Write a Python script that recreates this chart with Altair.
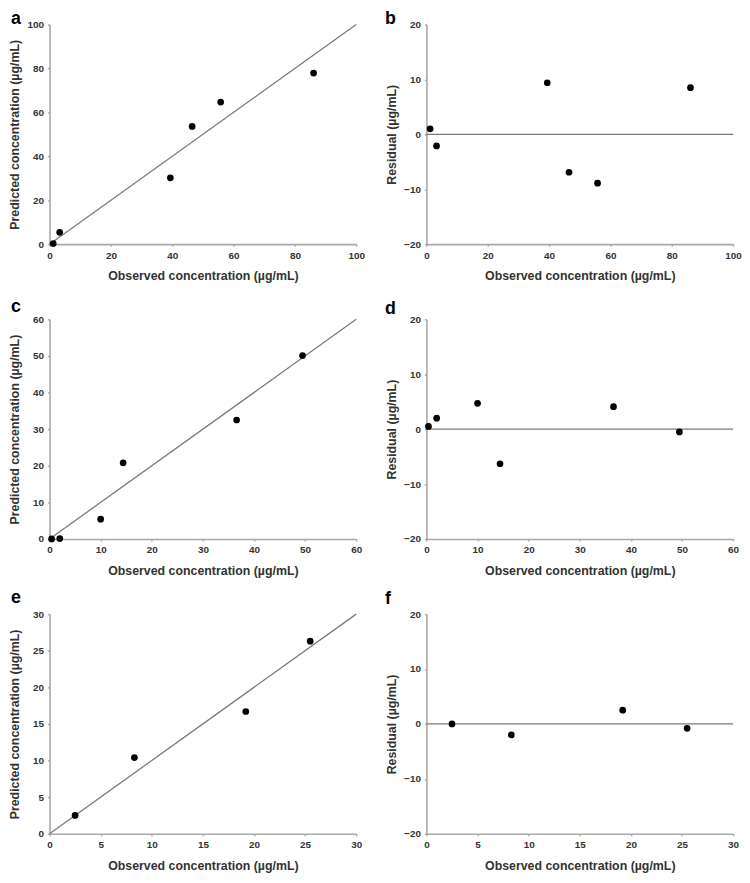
import altair as alt
import pandas as pd

# ---- data ----
obs_a = [1.2, 3.3, 39.4, 46.5, 55.8, 86.1]
pred_a = [0.3, 5.4, 30.2, 53.6, 64.7, 77.9]
resid_b = [1.0, -2.1, 9.4, -6.9, -8.9, 8.5]

obs_c = [0.4, 2.0, 10.0, 14.4, 36.6, 49.5]
pred_c = [0.0, 0.1, 5.4, 20.8, 32.5, 50.1]
resid_d = [0.5, 2.0, 4.7, -6.3, 4.1, -0.5]

obs_e = [2.5, 8.3, 19.2, 25.5]
pred_e = [2.5, 10.4, 16.7, 26.3]
resid_f = [0.0, -2.0, 2.5, -0.8]

x_max = [100, 60, 30]
x_step = [20, 10, 5]
resid_ticks = [-20, -10, 0, 10, 20]
letters_left = ["a", "c", "e"]
letters_right = ["b", "d", "f"]
letter_dy_left = [-1, -7, -11]
letter_dy_right = [-1, -5, -10]

XTITLE = "Observed concentration (\u00b5g/mL)"
PTITLE = "Predicted concentration (\u00b5g/mL)"
RTITLE = "Residual (\u00b5g/mL)"

W, H = 310, 222
FONT = "Liberation Sans"
LINE_COLOR = "#7a7a7a"


def ticks(mx, step):
    return list(range(0, mx + 1, step))


def letter_layer(letter, dx, dy):
    return alt.Chart(pd.DataFrame({"t": [letter]})).mark_text(
        font=FONT, fontWeight="bold", fontSize=18, align="left",
        baseline="alphabetic", color="black"
    ).encode(x=alt.value(dx), y=alt.value(dy), text="t:N")


def panel(obs, yvals, ref_y, ydomain, yticks, ytitle, mx, step, letter, dx, dy):
    pts = pd.DataFrame({"x": obs, "y": yvals})
    ref = pd.DataFrame({"x": [0, mx], "y": ref_y})
    xe = alt.X(
        "x:Q",
        scale=alt.Scale(domain=[0, mx], nice=False, zero=True),
        axis=alt.Axis(values=ticks(mx, step), title=XTITLE, titleY=32,
                      titleBaseline="middle"),
    )
    ye = alt.Y(
        "y:Q",
        scale=alt.Scale(domain=ydomain, nice=False),
        axis=alt.Axis(values=yticks, title=ytitle, titleX=-35,
                      titleBaseline="middle", titleAngle=270),
    )
    line = alt.Chart(ref).mark_line(color=LINE_COLOR, strokeWidth=1.3).encode(
        x=xe, y=ye
    )
    dots = alt.Chart(pts).mark_circle(size=46, color="black", opacity=1).encode(
        x=xe, y=ye
    )
    return alt.layer(line, dots, letter_layer(letter, dx, dy)).properties(
        width=W, height=H
    )


obs_list = [obs_a, obs_c, obs_e]
pred_list = [pred_a, pred_c, pred_e]
res_list = [resid_b, resid_d, resid_f]

panels = []
for i in range(3):
    mx = x_max[i]
    panels.append(panel(obs_list[i], pred_list[i], [0, mx], [0, mx],
                        ticks(mx, x_step[i]), PTITLE,
                        mx, x_step[i], letters_left[i], -39, letter_dy_left[i]))
    panels.append(panel(obs_list[i], res_list[i], [0, 0], [-20, 20],
                        resid_ticks, RTITLE,
                        mx, x_step[i], letters_right[i], -42, letter_dy_right[i]))

chart = alt.concat(
    *panels, columns=2, spacing={"row": 76, "column": 71}, bounds="flush"
).properties(
    padding={"left": 0, "top": -3, "right": 0, "bottom": 0},
    background="white",
).configure_view(strokeWidth=0).configure_axis(
    grid=False,
    domainColor="#a8a8a8",
    domainWidth=1.6,
    tickColor="#a8a8a8",
    tickWidth=1.5,
    tickSize=2,
    labelFlush=False,
    labelFont=FONT,
    labelFontWeight="bold",
    labelFontSize=10,
    labelColor="#333333",
    labelPadding=4,
    titleFont=FONT,
    titleFontWeight="bold",
    titleFontSize=12.5,
    titleColor="#333333",
)

chart.save("out.html", embed_options={"renderer": "svg", "actions": False})
